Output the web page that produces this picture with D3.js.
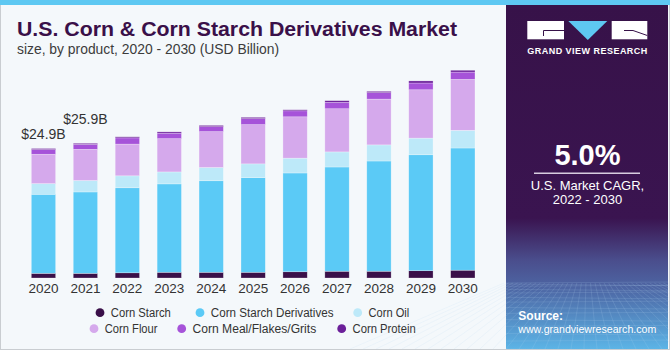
<!DOCTYPE html>
<html><head><meta charset="utf-8">
<script src="https://cdn.jsdelivr.net/npm/d3@7"></script>
<style>
body{margin:0;background:#fff}
svg{display:block}
text{font-family:"Liberation Sans",Arial,sans-serif}
</style>
</head><body>
<svg id="c" width="670" height="350"></svg>
<script>
// ---- data ----
const years = ["2020","2021","2022","2023","2024","2025","2026","2027","2028","2029","2030"];
const cornStarch            = [0.9, 0.9, 1.0, 1.1, 1.1, 1.1, 1.2, 1.3, 1.3, 1.4, 1.5];
const cornStarchDerivatives = [15.2,15.65,16.35,17.0,17.6,18.2,19.0,20.05,21.2,22.3,23.5];
const cornOil               = [2.05,2.2, 2.3, 2.3, 2.55,2.65,2.85,2.9, 3.1, 3.2, 3.4];
const cornFlour             = [5.65,6.0, 6.1, 6.4, 6.9, 7.55,7.95,8.3, 8.8, 9.3, 9.8];
const cornMeal              = [0.9, 0.95,1.2, 1.05,0.95,1.15,1.15,1.25,1.25,1.3, 1.4];
const cornProtein           = [0.2, 0.2, 0.2, 0.25,0.25,0.25,0.2, 0.3, 0.25,0.4, 0.35];
const seriesNames = ["Corn Starch","Corn Starch Derivatives","Corn Oil","Corn Flour","Corn Meal/Flakes/Grits","Corn Protein"];
const seriesValues = [cornStarch,cornStarchDerivatives,cornOil,cornFlour,cornMeal,cornProtein];
const seriesColors = ["#3a1049","#5bcaf6","#bde9f9","#d5a9ec","#a653d9","#6b1f99"];
const totalLabels = ["$24.9B","$25.9B"];
const cagrText = "5.0%";

// ---- build ----
const svg = d3.select("#c");
const W = 670, H = 350;

svg.append("rect").attr("x",0).attr("y",0).attr("width",W).attr("height",H).attr("fill","#f4f8fb");
svg.append("rect").attr("x",0.5).attr("y",4).attr("width",W-1).attr("height",H-4.5)
  .attr("fill","none").attr("stroke","#c9cdd1").attr("stroke-width",1);
svg.append("rect").attr("x",0).attr("y",0).attr("width",W).attr("height",5).attr("fill","#5ec8f2");

// title
svg.append("text").attr("x",17).attr("y",35.5).attr("font-size",20).attr("font-weight","bold")
  .attr("fill","#3a1049").attr("textLength",440).attr("lengthAdjust","spacingAndGlyphs")
  .text("U.S. Corn & Corn Starch Derivatives Market");
svg.append("text").attr("x",17).attr("y",53.5).attr("font-size",14).attr("fill","#3c3c3c")
  .attr("textLength",262).attr("lengthAdjust","spacingAndGlyphs")
  .text("size, by product, 2020 - 2030 (USD Billion)");

// scales
const x = d3.scaleBand().domain(years).range([13.7,492.6]).paddingInner(0.42).paddingOuter(0.42);
const y = d3.scaleLinear().domain([0,40]).range([278,70]);

const table = years.map((yr,i)=>{
  const o={year:yr};
  seriesNames.forEach((s,j)=>o[s]=seriesValues[j][i]);
  return o;
});
const stacked = d3.stack().keys(seriesNames)(table);

const g = svg.append("g");
stacked.forEach((layer,j)=>{
  g.selectAll(null).data(layer).join("rect")
    .attr("x",d=>x(d.data.year))
    .attr("width",x.bandwidth())
    .attr("y",d=>y(d[1]))
    .attr("height",d=>y(d[0])-y(d[1]))
    .attr("fill",seriesColors[j])
    .attr("stroke","rgba(255,255,255,0.45)")
    .attr("stroke-width",0.6);
});

// total labels
const totals = table.map(d=>d3.sum(seriesNames,s=>d[s]));
const labelGap = [10,19];
totalLabels.forEach((t,i)=>{
  svg.append("text").attr("x",x(years[i])+x.bandwidth()/2).attr("y",y(totals[i])-labelGap[i])
    .attr("text-anchor","middle").attr("font-size",14).attr("fill","#333").text(t);
});

// x axis
const xAxis = svg.append("g").attr("transform","translate(0,278)")
  .call(d3.axisBottom(x).tickSize(0).tickPadding(5));
xAxis.select(".domain").remove();
xAxis.selectAll("text").attr("font-size",13.5).attr("fill","#333")
  .attr("font-family","'Liberation Sans',Arial,sans-serif").attr("dy","0.75em");

// legend
const legendRows = [[0,1,2],[3,4,5]];
const legendX = [[100,200,357.7],[94,181.7,341.7]];
const legendW = [[60,122.7,40.7],[52.7,123.7,63.3]];
const legendY = [312.7,328.7];
legendRows.forEach((row,r)=>{
  row.forEach((si,k)=>{
    const lg = svg.append("g").attr("transform",`translate(${legendX[r][k]},${legendY[r]})`);
    lg.append("circle").attr("r",4.4).attr("fill",seriesColors[si]);
    lg.append("text").attr("x",10.8).attr("y",4.2).attr("font-size",12.5).attr("fill","#333")
      .attr("textLength",legendW[r][k]).attr("lengthAdjust","spacingAndGlyphs")
      .text(seriesNames[si]);
  });
});

// right panel
const defs = svg.append("defs");
const grad = defs.append("linearGradient").attr("id","pg").attr("x1",0).attr("y1",0).attr("x2",0).attr("y2",1);
[[0,"#371249"],[0.62,"#3a1450"],[0.74,"#4a4d8c"],[0.82,"#4d65a3"],[1,"#5cb4e6"]].forEach(s=>
  grad.append("stop").attr("offset",s[0]).attr("stop-color",s[1]));
svg.append("rect").attr("x",506).attr("y",5).attr("width",162).attr("height",344).attr("fill","url(#pg)");

// perspective grid decoration
const grid = svg.append("g").attr("stroke","#b9d6f2").attr("stroke-opacity",0.22).attr("stroke-width",0.7).attr("fill","none");
for(let i=0;i<14;i++){
  const yy = 283 + 66*Math.pow(i/13,1.6);
  grid.append("line").attr("x1",506).attr("x2",668).attr("y1",yy).attr("y2",yy+ (i%2?1.5:-1));
}
for(let i=-12;i<=24;i++){
  const xt = 506 + i*13;
  grid.append("line").attr("x1",587+(xt-587)*0.35).attr("y1",283).attr("x2",xt).attr("y2",349);
}

// logo
const logo = svg.append("g");
logo.append("rect").attr("x",527.3).attr("y",21).attr("width",36.7).attr("height",18.3).attr("fill","#fff");
logo.append("path").attr("d","M543.5,36 V30.5 H564").attr("stroke","#371249").attr("stroke-width",1).attr("fill","none");
logo.append("path").attr("d","M568.3,21 L607.3,21 L587.8,40 Z").attr("fill","#5ec8f2");
logo.append("rect").attr("x",611.7).attr("y",21).attr("width",35.6).attr("height",18.3).attr("fill","#fff");
logo.append("path").attr("d","M624,30.5 H633 L647.3,35.5").attr("stroke","#371249").attr("stroke-width",1).attr("fill","none");
svg.append("text").attr("x",527.3).attr("y",53.5).attr("font-size",9).attr("font-weight","bold")
  .attr("fill","#fff").attr("textLength",120).attr("lengthAdjust","spacing").text("GRAND VIEW RESEARCH");

// CAGR
svg.append("text").attr("x",587.5).attr("y",165).attr("text-anchor","middle").attr("font-size",29)
  .attr("font-weight","bold").attr("fill","#fff").text(cagrText);
svg.append("line").attr("x1",534).attr("x2",640).attr("y1",173.3).attr("y2",173.3)
  .attr("stroke","#d8cde0").attr("stroke-width",1.4);
svg.append("text").attr("x",587.5).attr("y",190).attr("text-anchor","middle").attr("font-size",13)
  .attr("fill","#fff").text("U.S. Market CAGR,");
svg.append("text").attr("x",587.5).attr("y",203.5).attr("text-anchor","middle").attr("font-size",13)
  .attr("fill","#fff").text("2022 - 2030");

// source
svg.append("text").attr("x",518.3).attr("y",320).attr("font-size",12).attr("font-weight","bold")
  .attr("fill","#fff").text("Source:");
svg.append("text").attr("x",518.3).attr("y",333).attr("font-size",11.5)
  .attr("fill","#fff").attr("textLength",138).attr("lengthAdjust","spacingAndGlyphs").text("www.grandviewresearch.com");
</script>
</body></html>
